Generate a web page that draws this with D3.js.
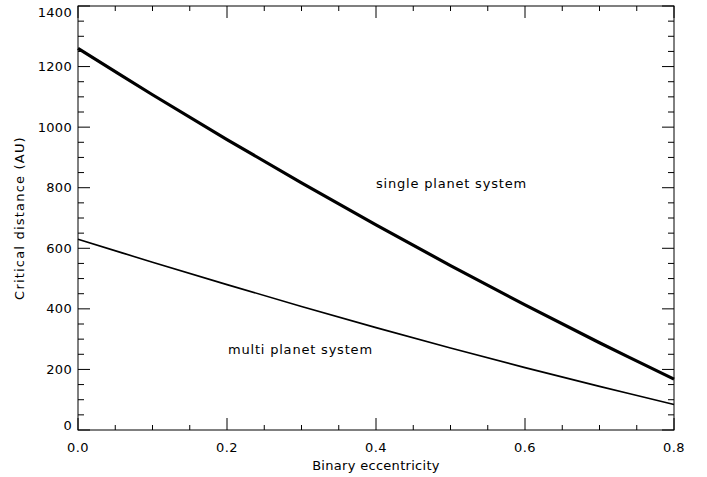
<!DOCTYPE html>
<html>
<head>
<meta charset="utf-8">
<script src="https://cdn.jsdelivr.net/npm/d3@7"></script>
<style>
  body { margin: 0; background: #fff; }
  text { font-family: "DejaVu Sans", sans-serif; fill: #000; }
</style>
</head>
<body>
<div id="chart"></div>
<script>
// values
const eccentricity = [0.0, 0.1, 0.2, 0.3, 0.4, 0.5, 0.6, 0.7, 0.8];
const singlePlanet = [1260, 1107, 959, 816, 677, 543, 413, 288, 168];
const multiPlanet = [630, 554, 480, 408, 338, 271, 206, 144, 84];
const xTicks = [0.0, 0.2, 0.4, 0.6, 0.8];
const yTicks = [0, 200, 400, 600, 800, 1000, 1200, 1400];

const W = 707, H = 477;
const mLeft = 78, mRight = 674, mTop = 6, mBottom = 430;

const svg = d3.select("#chart").append("svg")
    .attr("width", W).attr("height", H);

const x = d3.scaleLinear().domain([0, 0.8]).range([mLeft, mRight]);
const y = d3.scaleLinear().domain([0, 1400]).range([mBottom, mTop]);

// frame
svg.append("rect")
    .attr("x", mLeft).attr("y", mTop)
    .attr("width", mRight - mLeft).attr("height", mBottom - mTop)
    .attr("fill", "none").attr("stroke", "#000").attr("stroke-width", 1);

const ticks = svg.append("g").attr("stroke", "#000").attr("stroke-width", 1);

// x ticks (bottom and top, pointing in)
d3.range(0, 0.8001, 0.05).forEach(function(v){
    const major = Math.abs(v / 0.2 - Math.round(v / 0.2)) < 1e-6;
    const len = major ? 12 : 5;
    ticks.append("line").attr("x1", x(v)).attr("x2", x(v)).attr("y1", mBottom).attr("y2", mBottom - len);
    ticks.append("line").attr("x1", x(v)).attr("x2", x(v)).attr("y1", mTop).attr("y2", mTop + len);
});

// y ticks (left and right, pointing in)
d3.range(0, 1401, 50).forEach(function(v){
    const major = v % 200 === 0;
    const len = major ? 12 : 6;
    ticks.append("line").attr("x1", mLeft).attr("x2", mLeft + len).attr("y1", y(v)).attr("y2", y(v));
    ticks.append("line").attr("x1", mRight).attr("x2", mRight - len).attr("y1", y(v)).attr("y2", y(v));
});

// tick labels
svg.append("g").selectAll("text")
    .data(xTicks).join("text")
    .attr("x", function(d){ return x(d); })
    .attr("y", 452)
    .attr("text-anchor", "middle")
    .attr("font-size", 13)
    .attr("letter-spacing", 0.4)
    .text(function(d){ return d.toFixed(1); });

svg.append("g").selectAll("text")
    .data(yTicks).join("text")
    .attr("x", 72)
    .attr("y", function(d){ return Math.min(Math.max(y(d), 12), 425); })
    .attr("dy", "0.35em")
    .attr("text-anchor", "end")
    .attr("font-size", 13)
    .attr("letter-spacing", 0.3)
    .text(function(d){ return d; });

// axis titles
svg.append("text")
    .attr("x", (mLeft + mRight) / 2).attr("y", 470)
    .attr("text-anchor", "middle").attr("font-size", 13)
    .attr("letter-spacing", 0.3)
    .text("Binary eccentricity");

svg.append("text")
    .attr("transform", "translate(24," + ((mTop + mBottom) / 2) + ") rotate(-90)")
    .attr("text-anchor", "middle").attr("font-size", 13)
    .attr("letter-spacing", 1.2)
    .text("Critical distance (AU)");

// curves
const line = d3.line()
    .x(function(d, i){ return x(eccentricity[i]); })
    .y(function(d){ return y(d); })
    .curve(d3.curveCatmullRom);

svg.append("path").datum(singlePlanet)
    .attr("d", line).attr("fill", "none")
    .attr("stroke", "#000").attr("stroke-width", 3.2);

svg.append("path").datum(multiPlanet)
    .attr("d", line).attr("fill", "none")
    .attr("stroke", "#000").attr("stroke-width", 1.6);

// annotations
svg.append("text")
    .attr("x", 376).attr("y", 188).attr("font-size", 13)
    .attr("letter-spacing", 0.8)
    .text("single planet system");

svg.append("text")
    .attr("x", 228).attr("y", 354).attr("font-size", 13)
    .attr("letter-spacing", 0.8)
    .text("multi planet system");
</script>
</body>
</html>
